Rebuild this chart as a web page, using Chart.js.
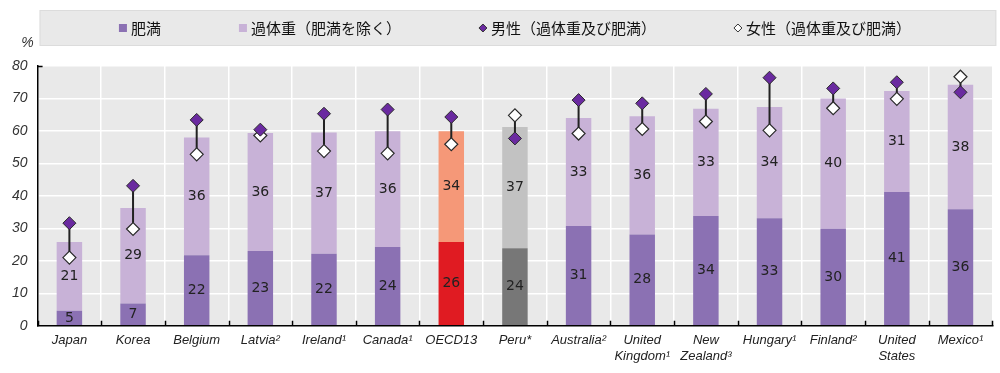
<!DOCTYPE html>
<html>
<head>
<meta charset="utf-8">
<script src="https://cdn.jsdelivr.net/npm/chart.js@4.4.1/dist/chart.umd.min.js"></script>
<style>
  body { margin: 0; background: #fff; }
  #wrap { width: 1000px; height: 373px; position: relative; }
</style>
</head>
<body>
<div id="wrap"><canvas id="obesityChart"></canvas></div>
<script>
// categories (multi-line labels as arrays)
const categories = [
    ['Japan'], ['Korea'], ['Belgium'], ['Latvia²'], ['Ireland¹'], ['Canada¹'],
    ['OECD13'], ['Peru*'], ['Australia²'], ['United', 'Kingdom¹'], ['New', 'Zealand³'],
    ['Hungary¹'], ['Finland²'], ['United', 'States'], ['Mexico¹']
];

const obese      = [4.6, 6.9, 21.7, 23.0, 22.2, 24.3, 25.8, 23.9, 30.7, 28.1, 33.8, 33.1, 29.9, 41.2, 35.9];
const overweight = [21.2, 29.4, 36.3, 36.4, 37.3, 35.6, 34.1, 37.3, 33.3, 36.4, 33.0, 34.3, 40.1, 31.1, 38.3];
const men        = [31.6, 43.1, 63.4, 60.4, 65.3, 66.6, 64.3, 57.7, 69.5, 68.5, 71.4, 76.4, 73.1, 75.0, 71.9];
const women      = [21.0, 29.8, 52.8, 58.6, 53.8, 53.1, 55.9, 64.8, 59.2, 60.6, 62.9, 60.2, 67.0, 69.9, 76.7];

const yMin = 0;
const yMax = 80;
const yStep = 10;
const yUnit = '%';

const seriesNames = ['肥満', '過体重（肥満を除く）', '男性（過体重及び肥満）', '女性（過体重及び肥満）'];

// colours
const purpleDark = '#8b71b3';
const purpleLight = '#c8b2d7';
const pick = (i, normal, oecd, peru) => i === 6 ? oecd : (i === 7 ? peru : normal);
const obeseColors = categories.map((c, i) => pick(i, purpleDark, '#e01b22', '#777777'));
const overweightColors = categories.map((c, i) => pick(i, purpleLight, '#f59878', '#c2c2c2'));

const labelFont = "'Liberation Sans', Arial, sans-serif";
const cjkFont = "'Noto Sans CJK JP', sans-serif";

// grey plot background + legend box
const backgroundPlugin = {
    id: 'background',
    beforeDraw(chart) {
        const {ctx, chartArea: a} = chart;
        ctx.save();
        ctx.fillStyle = '#e9e9e9';
        ctx.fillRect(a.left, a.top, a.right - a.left, a.bottom - a.top);
        ctx.fillRect(a.left + 2, 10, a.right - a.left + 2, 36);
        ctx.strokeStyle = '#dcdcdc';
        ctx.lineWidth = 1;
        ctx.strokeRect(a.left + 2.5, 10.5, a.right - a.left + 1, 35);
        ctx.restore();
    }
};

// hand-drawn legend so spacing matches the grey strip
const legendPlugin = {
    id: 'stripLegend',
    afterDraw(chart) {
        const {ctx, chartArea: a} = chart;
        ctx.save();
        ctx.font = '15px ' + cjkFont;
        ctx.textBaseline = 'middle';
        const gap = 78;
        const box = 8;
        const widths = chart.data.datasets.map(ds => box + 4 + ctx.measureText(ds.label).width);
        const total = widths.reduce((s, w) => s + w, 0) + gap * (widths.length - 1);
        let x = (a.left + a.right) / 2 - total / 2;
        const y = 28;
        chart.data.datasets.forEach((ds, i) => {
            const cx = x + box / 2;
            if (ds.type === 'line') {
                ctx.beginPath();
                ctx.moveTo(cx, y - 4);
                ctx.lineTo(cx + 4, y);
                ctx.lineTo(cx, y + 4);
                ctx.lineTo(cx - 4, y);
                ctx.closePath();
                ctx.fillStyle = ds.pointBackgroundColor;
                ctx.fill();
                ctx.strokeStyle = '#333';
                ctx.lineWidth = 1;
                ctx.stroke();
            } else {
                ctx.fillStyle = ds.backgroundColor[0];
                ctx.fillRect(x, y - box / 2, box, box);
            }
            ctx.fillStyle = '#111';
            ctx.fillText(ds.label, x + box + 4, y);
            x += widths[i] + gap;
        });
        // unit label
        ctx.font = 'italic 14px ' + labelFont;
        ctx.fillStyle = '#333';
        ctx.textAlign = 'center';
        ctx.fillText(yUnit, a.left - 10, 43);
        // small inward ticks on the x axis
        const xs = chart.scales.x;
        ctx.strokeStyle = '#000';
        ctx.lineWidth = 1.5;
        ctx.beginPath();
        for (let i = 0; i <= categories.length; i++) {
            const px = Math.round(xs.getPixelForValue(i - 0.5)) + 0.5;
            ctx.moveTo(px, a.bottom);
            ctx.lineTo(px, a.bottom - 5);
        }
        ctx.moveTo(a.left, a.top + 0.5);
        ctx.lineTo(a.left + 5, a.top + 0.5);
        ctx.stroke();
        ctx.restore();
    }
};

// connector between men and women markers, drawn before the marker layers
const connectorPlugin = {
    id: 'connectors',
    beforeDatasetDraw(chart, args) {
        if (args.index !== 3) return;
        const {ctx} = chart;
        const xs = chart.scales.x;
        const ys = chart.scales.y;
        ctx.save();
        ctx.strokeStyle = '#222';
        ctx.lineWidth = 2;
        ctx.beginPath();
        categories.forEach((c, i) => {
            const px = xs.getPixelForValue(i);
            ctx.moveTo(px, ys.getPixelForValue(men[i]));
            ctx.lineTo(px, ys.getPixelForValue(women[i]));
        });
        ctx.stroke();
        ctx.restore();
    }
};

// value labels inside the stacked bars
const barLabelPlugin = {
    id: 'barLabels',
    afterDatasetDraw(chart, args) {
        if (args.index > 1) return;
        const {ctx} = chart;
        const values = chart.data.datasets[args.index].data;
        ctx.save();
        ctx.font = '14px ' + "'DejaVu Sans', sans-serif";
        ctx.fillStyle = '#222';
        ctx.textAlign = 'center';
        ctx.textBaseline = 'middle';
        args.meta.data.forEach((bar, i) => {
            const mid = (bar.y + bar.base) / 2;
            ctx.fillText(Math.round(values[i]), bar.x, mid);
        });
        ctx.restore();
    }
};

new Chart(document.getElementById('obesityChart'), {
    data: {
        labels: categories,
        datasets: [
            {
                type: 'bar',
                label: seriesNames[0],
                data: obese,
                backgroundColor: obeseColors,
                stack: 'total',
                order: 1,
                barPercentage: 0.4,
                categoryPercentage: 1
            },
            {
                type: 'bar',
                label: seriesNames[1],
                data: overweight,
                backgroundColor: overweightColors,
                stack: 'total',
                order: 1,
                barPercentage: 0.4,
                categoryPercentage: 1
            },
            {
                type: 'line',
                label: seriesNames[2],
                data: men,
                showLine: false,
                stack: 'men',
                order: 0,
                pointStyle: 'rectRot',
                pointRadius: 6.5,
                pointHoverRadius: 6.5,
                pointBackgroundColor: '#6a2aa0',
                pointBorderColor: '#2a2a2a',
                pointBorderWidth: 1
            },
            {
                type: 'line',
                label: seriesNames[3],
                data: women,
                showLine: false,
                stack: 'women',
                order: 0,
                pointStyle: 'rectRot',
                pointRadius: 6.5,
                pointHoverRadius: 6.5,
                pointBackgroundColor: '#ffffff',
                pointBorderColor: '#2a2a2a',
                pointBorderWidth: 1.2
            }
        ]
    },
    options: {
        responsive: true,
        maintainAspectRatio: false,
        animation: false,
        layout: {
            padding: { top: 66, left: 2, right: 5, bottom: 2 }
        },
        plugins: {
            legend: { display: false },
            tooltip: { enabled: false }
        },
        scales: {
            x: {
                stacked: true,
                grid: { color: '#ffffff', lineWidth: 1.5, drawTicks: false, offset: true },
                border: { color: '#000', width: 1.5 },
                ticks: {
                    autoSkip: false,
                    maxRotation: 0,
                    padding: 7,
                    color: '#222',
                    font: { family: labelFont, size: 13, style: 'italic' }
                }
            },
            y: {
                stacked: true,
                min: yMin,
                max: yMax,
                grid: { color: '#ffffff', lineWidth: 1.5, drawTicks: false },
                border: { color: '#000', width: 1.5 },
                ticks: {
                    stepSize: yStep,
                    padding: 10,
                    color: '#333',
                    font: { family: labelFont, size: 14, style: 'italic' }
                }
            }
        }
    },
    plugins: [backgroundPlugin, legendPlugin, connectorPlugin, barLabelPlugin]
});
</script>
</body>
</html>
